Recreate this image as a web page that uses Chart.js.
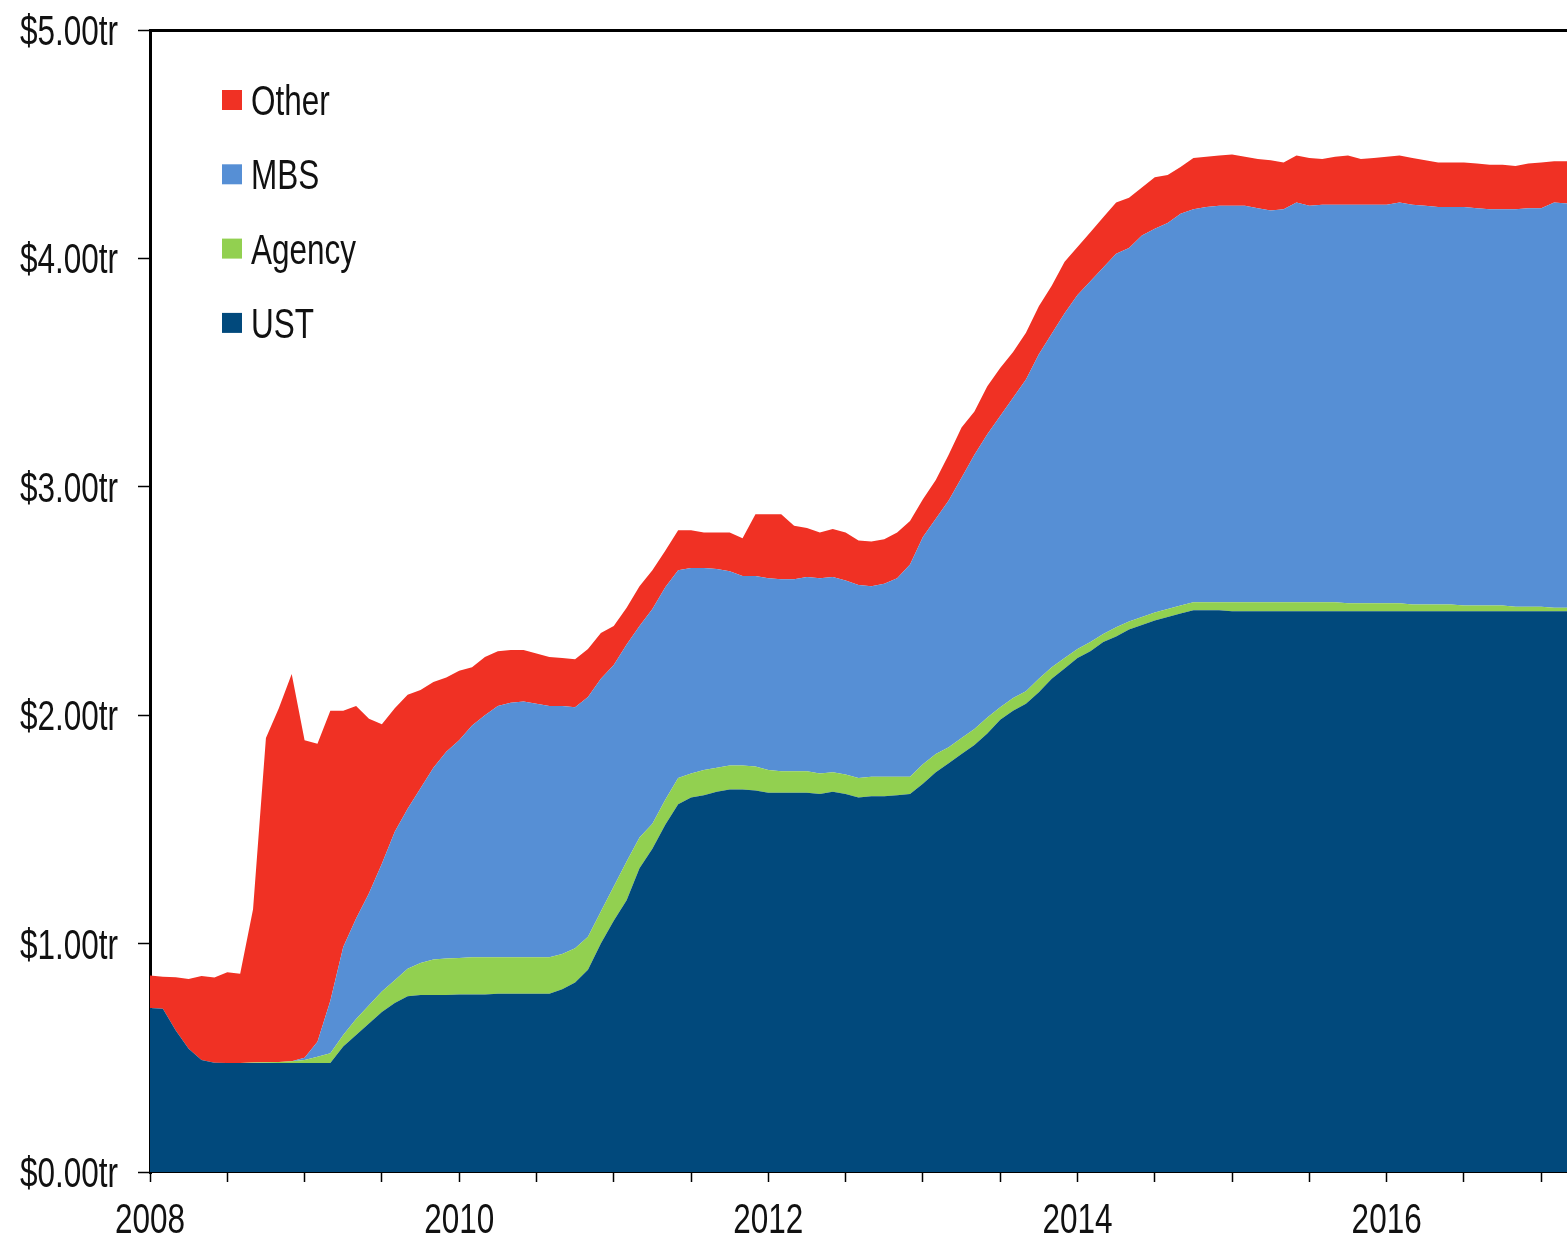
<!DOCTYPE html>
<html>
<head>
<meta charset="utf-8">
<script src="https://cdn.jsdelivr.net/npm/chart.js@4.4.1/dist/chart.umd.min.js"></script>
<style>
  html, body { margin: 0; padding: 0; background: #fff; }
  #wrap { width: 1567px; height: 1237px; position: relative; }
</style>
</head>
<body>
<div id="wrap"><canvas id="chart"></canvas></div>
<script>
// ============= DATA =============
// Monthly observations, Jan 2008 .. Mar 2017 (US$ trillions)
const years = [2008, 2009, 2010, 2011, 2012, 2013, 2014, 2015, 2016, 2017];
const lastMonth2017 = 3;

const ust = [
  0.718, 0.715, 0.62, 0.54, 0.49, 0.478, 0.477, 0.477, 0.477, 0.477, 0.477, 0.477,
  0.477, 0.477, 0.477, 0.55, 0.60, 0.65, 0.70, 0.74, 0.77, 0.775, 0.775, 0.775,
  0.777, 0.777, 0.777, 0.78, 0.78, 0.78, 0.78, 0.78, 0.80, 0.83, 0.885, 1.00,
  1.10, 1.19, 1.33, 1.415, 1.52, 1.61, 1.64, 1.65, 1.665, 1.675, 1.675, 1.67,
  1.66, 1.66, 1.66, 1.66, 1.655, 1.665, 1.655, 1.64, 1.645, 1.645, 1.65, 1.655,
  1.70, 1.75, 1.79, 1.83, 1.87, 1.92, 1.98, 2.02, 2.05, 2.10, 2.16, 2.205,
  2.25, 2.28, 2.32, 2.345, 2.375, 2.395, 2.415, 2.43, 2.445, 2.46, 2.46, 2.46,
  2.455, 2.455, 2.455, 2.455, 2.455, 2.455, 2.455, 2.455, 2.455, 2.455, 2.455, 2.455,
  2.455, 2.455, 2.455, 2.455, 2.455, 2.455, 2.455, 2.455, 2.455, 2.455, 2.455, 2.455,
  2.455, 2.455, 2.455
];

const agency = [
  0, 0, 0, 0, 0, 0, 0, 0, 0.002, 0.003, 0.005, 0.008,
  0.013, 0.028, 0.043, 0.05, 0.07, 0.08, 0.09, 0.10, 0.12, 0.14, 0.155, 0.16,
  0.16, 0.163, 0.163, 0.16, 0.16, 0.16, 0.16, 0.16, 0.155, 0.15, 0.145, 0.14,
  0.15, 0.17, 0.135, 0.11, 0.11, 0.115, 0.105, 0.11, 0.105, 0.105, 0.105, 0.105,
  0.10, 0.095, 0.095, 0.095, 0.09, 0.085, 0.085, 0.085, 0.085, 0.085, 0.08, 0.075,
  0.085, 0.08, 0.07, 0.07, 0.07, 0.07, 0.055, 0.055, 0.055, 0.06, 0.05, 0.045,
  0.04, 0.04, 0.035, 0.04, 0.035, 0.035, 0.035, 0.035, 0.035, 0.035, 0.035, 0.035,
  0.04, 0.04, 0.04, 0.04, 0.04, 0.04, 0.04, 0.04, 0.04, 0.035, 0.035, 0.035,
  0.035, 0.035, 0.03, 0.03, 0.03, 0.03, 0.025, 0.025, 0.025, 0.025, 0.02, 0.02,
  0.02, 0.015, 0.015
];

const mbs = [
  0, 0, 0, 0, 0, 0, 0, 0, 0, 0, 0, 0,
  0.01, 0.065, 0.23, 0.385, 0.44, 0.49, 0.56, 0.65, 0.70, 0.765, 0.84, 0.905,
  0.953, 1.015, 1.06, 1.10, 1.115, 1.12, 1.11, 1.10, 1.085, 1.055, 1.05, 1.02,
  0.97, 0.95, 0.925, 0.94, 0.93, 0.91, 0.90, 0.885, 0.87, 0.85, 0.83, 0.835,
  0.84, 0.84, 0.84, 0.85, 0.855, 0.855, 0.85, 0.845, 0.835, 0.845, 0.87, 0.93,
  0.995, 1.03, 1.08, 1.14, 1.20, 1.24, 1.275, 1.315, 1.365, 1.42, 1.46, 1.51,
  1.55, 1.58, 1.605, 1.635, 1.635, 1.67, 1.68, 1.69, 1.715, 1.72, 1.73, 1.735,
  1.735, 1.735, 1.725, 1.715, 1.72, 1.75, 1.735, 1.74, 1.74, 1.745, 1.745, 1.745,
  1.745, 1.755, 1.75, 1.745, 1.74, 1.74, 1.745, 1.74, 1.735, 1.735, 1.74, 1.745,
  1.745, 1.775, 1.77
];

const other = [
  0.142, 0.14, 0.233, 0.305, 0.368, 0.374, 0.398, 0.391, 0.671, 1.42, 1.548, 1.695,
  1.39, 1.305, 1.27, 1.035, 0.93, 0.765, 0.61, 0.54, 0.50, 0.43, 0.375, 0.325,
  0.305, 0.255, 0.255, 0.24, 0.23, 0.225, 0.22, 0.215, 0.21, 0.21, 0.21, 0.20,
  0.17, 0.16, 0.175, 0.17, 0.16, 0.175, 0.165, 0.155, 0.16, 0.17, 0.165, 0.27,
  0.28, 0.285, 0.235, 0.215, 0.20, 0.21, 0.21, 0.195, 0.195, 0.195, 0.20, 0.19,
  0.165, 0.17, 0.20, 0.22, 0.19, 0.21, 0.21, 0.20, 0.205, 0.21, 0.21, 0.225,
  0.21, 0.215, 0.22, 0.225, 0.22, 0.21, 0.225, 0.21, 0.205, 0.225, 0.22, 0.22,
  0.225, 0.215, 0.215, 0.22, 0.205, 0.205, 0.21, 0.20, 0.21, 0.215, 0.20, 0.205,
  0.21, 0.205, 0.205, 0.20, 0.195, 0.195, 0.195, 0.195, 0.195, 0.195, 0.19, 0.195,
  0.20, 0.18, 0.185
];

const yTicks = [0, 1, 2, 3, 4, 5];
const yTickLabels = ['$0.00tr', '$1.00tr', '$2.00tr', '$3.00tr', '$4.00tr', '$5.00tr'];
const xTickLabels = ['2008', '2010', '2012', '2014', '2016'];

// month categories
const months = [];
years.forEach(y => {
  const n = y === 2017 ? lastMonth2017 : 12;
  for (let m = 1; m <= n; m++) months.push(`${y}-${String(m).padStart(2, '0')}`);
});

// ============= STYLE =============
const FONT = '"Liberation Sans", Arial, sans-serif';
const TEXT_SIZE = 42;
const SQUEEZE = 0.75;   // the original uses a condensed face
const COLORS = {
  ust: '#01497C',
  agency: '#92D050',
  mbs: '#568FD5',
  other: '#F03124'
};

function condensedText(ctx, text, x, y, align) {
  ctx.save();
  ctx.translate(x, y);
  ctx.scale(SQUEEZE, 1);
  ctx.textAlign = align;
  ctx.fillText(text, 0, 0);
  ctx.restore();
}

// ============= LABELS + LEGEND =============
const textLayer = {
  id: 'textLayer',
  afterDraw(chart) {
    const { ctx, chartArea, scales } = chart;
    ctx.save();
    ctx.font = `${TEXT_SIZE}px ${FONT}`;
    ctx.textBaseline = 'alphabetic';
    ctx.fillStyle = '#111';

    // y axis labels
    yTicks.forEach((v, k) => {
      const py = scales.y.getPixelForValue(v);
      condensedText(ctx, yTickLabels[k], chartArea.left - 32, py + 15, 'right');
    });

    // x axis labels
    xTickLabels.forEach(lbl => {
      const idx = months.indexOf(`${lbl}-01`);
      const px = scales.x.getPixelForValue(idx);
      condensedText(ctx, lbl, px, chartArea.bottom + 61, 'center');
    });

    // legend, top to bottom
    const items = chart.data.datasets.slice().reverse();
    items.forEach((ds, k) => {
      const cy = chartArea.top + 70 + k * 74.3;
      ctx.fillStyle = ds.backgroundColor;
      ctx.fillRect(chartArea.left + 72, cy - 10, 20, 20);
      ctx.fillStyle = '#111';
      condensedText(ctx, ds.label, chartArea.left + 101, cy + 15, 'left');
    });
    ctx.restore();
  }
};

function areaSet(label, data, color, fill) {
  return {
    label,
    data,
    backgroundColor: color,
    borderColor: color,
    borderWidth: 0,
    pointRadius: 0,
    tension: 0,
    fill
  };
}

// ============= CHART =============
new Chart(document.getElementById('chart'), {
  type: 'line',
  data: {
    labels: months,
    datasets: [
      areaSet('UST', ust, COLORS.ust, 'origin'),
      areaSet('Agency', agency, COLORS.agency, '-1'),
      areaSet('MBS', mbs, COLORS.mbs, '-1'),
      areaSet('Other', other, COLORS.other, '-1')
    ]
  },
  options: {
    responsive: true,
    maintainAspectRatio: false,
    animation: false,
    layout: { autoPadding: false, padding: { top: 30, right: 0, bottom: 0, left: 0 } },
    plugins: {
      legend: { display: false },
      tooltip: { enabled: false }
    },
    scales: {
      x: {
        type: 'category',
        offset: false,
        z: 1,
        afterFit(scale) { scale.height = 65; },
        border: { display: true, color: '#000', width: 2 },
        grid: {
          drawOnChartArea: false,
          drawTicks: true,
          tickLength: 10,
          tickWidth: 1.5,
          tickColor: (c) => (c.index % 6 === 0 ? '#000' : 'transparent')
        },
        ticks: { display: false, autoSkip: false }
      },
      y: {
        stacked: true,
        min: 0,
        max: 5,
        z: 1,
        afterFit(scale) { scale.width = 150; },
        afterBuildTicks(scale) { scale.ticks = yTicks.map(v => ({ value: v })); },
        border: { display: true, color: '#000', width: 3 },
        grid: {
          color: (c) => (c.tick && c.tick.value === 5 ? '#000' : 'transparent'),
          lineWidth: 3,
          tickLength: 12,
          tickWidth: 1.5,
          tickColor: '#000'
        },
        ticks: { display: false }
      }
    }
  },
  plugins: [textLayer]
});
</script>
</body>
</html>
